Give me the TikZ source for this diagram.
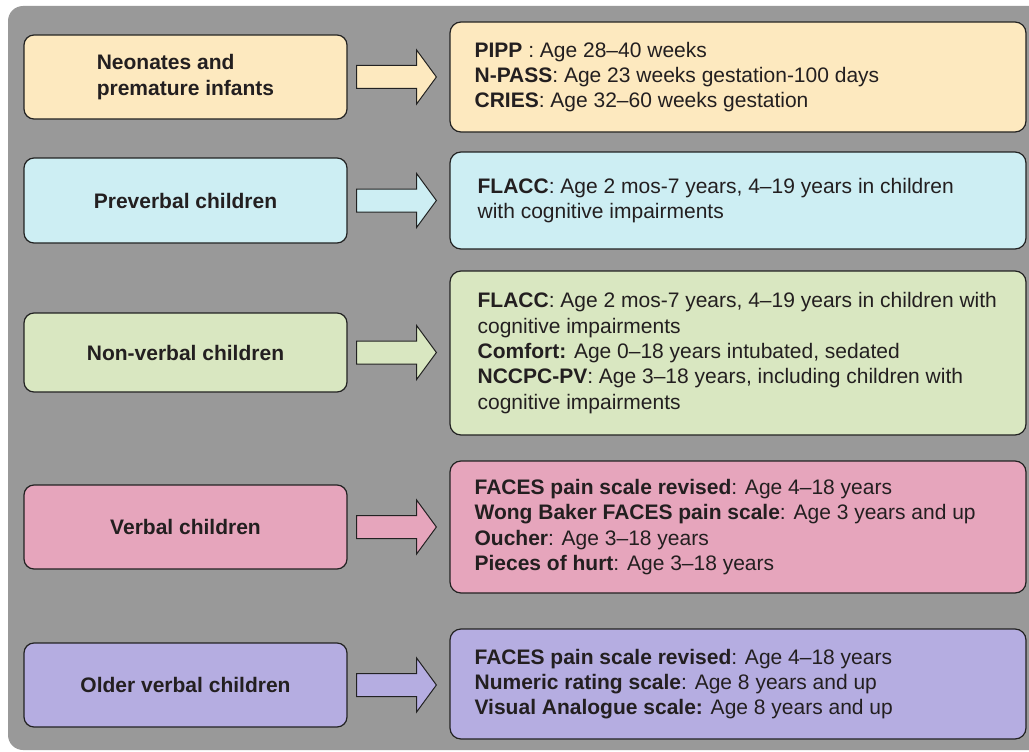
\documentclass[tikz,border=0pt]{standalone}
\usepackage{fontspec}
\setmainfont{Liberation Sans}
\usetikzlibrary{calc}
\definecolor{bggray}{HTML}{999999}
\definecolor{txt}{HTML}{231F20}
\definecolor{cA}{HTML}{FDE9BF}
\definecolor{cB}{HTML}{CDEEF3}
\definecolor{cC}{HTML}{D9E7C1}
\definecolor{cD}{HTML}{E6A5BC}
\definecolor{cE}{HTML}{B5ADE1}
\definecolor{edge}{HTML}{222222}
\tikzset{
  lbox/.style={draw=edge, line width=1.2pt, rounded corners=10pt, minimum width=323pt,
    inner sep=0pt, align=left, text=txt, font=\fontsize{21}{26}\selectfont\bfseries},
  rbox/.style={draw=edge, line width=1.2pt, rounded corners=11pt, minimum width=576pt, inner sep=0pt},
  rtext/.style={anchor=west, align=left, inner sep=0pt, text=txt, font=\fontsize{21}{25.3}\selectfont},
  arrowshape/.style={draw=edge, line width=1pt, line join=miter}
}
\newcommand{\conn}[3]{%
  \path (#1.east) ++(9,0) coordinate (s#1);
  \path (#2.west |- #1.east) ++(-13,0) coordinate (t#1);
  \draw[arrowshape, fill=#3] ($(s#1)+(0,-11.5)$) -- ($(s#1)+(60,-11.5)$) -- ($(s#1)+(60,-27)$)
    -- (t#1) -- ($(s#1)+(60,27)$) -- ($(s#1)+(60,11.5)$) -- ($(s#1)+(0,11.5)$) -- cycle;
}
\begin{document}
\begin{tikzpicture}[x=1pt,y=-1pt]
\useasboundingbox (0,0) rectangle (1029,752);
\fill[bggray, rounded corners=15pt] (8,6) rectangle (1060,750);

% left boxes
\node[lbox, fill=cA, minimum height=84pt] (L1) at (185.5,77) {Neonates and\\premature infants};
\node[lbox, fill=cB, minimum height=85pt] (L2) at (185.5,200.5) {Preverbal children};
\node[lbox, fill=cC, minimum height=79pt] (L3) at (185.5,352.5) {Non-verbal children};
\node[lbox, fill=cD, minimum height=84pt] (L4) at (185.5,527) {Verbal children};
\node[lbox, fill=cE, minimum height=84pt] (L5) at (185.5,685) {Older verbal children};

% right boxes
\node[rbox, fill=cA, minimum height=110pt] (R1) at (738,77) {};
\node[rbox, fill=cB, minimum height=97pt] (R2) at (738,200.5) {};
\node[rbox, fill=cC, minimum height=164pt] (R3) at (738,353) {};
\node[rbox, fill=cD, minimum height=132pt] (R4) at (738,527) {};
\node[rbox, fill=cE, minimum height=110pt] (R5) at (738,684) {};

\node[rtext] (T1) at ([xshift=25pt]R1.west) {\textbf{PIPP} : Age 28–40 weeks\\
\textbf{N-PASS}: Age 23 weeks gestation-100 days\\
\textbf{CRIES}: Age 32–60 weeks gestation};
\node[rtext] (T2) at ([xshift=28pt]R2.west) {\textbf{FLACC}: Age 2 mos-7 years, 4–19 years in children\\
with cognitive impairments};
\node[rtext] (T3) at ([xshift=28pt]R3.west) {\textbf{FLACC}: Age 2 mos-7 years, 4–19 years in children with\\
cognitive impairments\\
\textbf{Comfort:} Age 0–18 years intubated, sedated\\
\textbf{NCCPC-PV}: Age 3–18 years, including children with\\
cognitive impairments};
\node[rtext] (T4) at ([xshift=25pt]R4.west) {\textbf{FACES pain scale revised}: Age 4–18 years\\
\textbf{Wong Baker FACES pain scale}: Age 3 years and up\\
\textbf{Oucher}: Age 3–18 years\\
\textbf{Pieces of hurt}: Age 3–18 years};
\node[rtext] (T5) at ([xshift=25pt]R5.west) {\textbf{FACES pain scale revised}: Age 4–18 years\\
\textbf{Numeric rating scale}: Age 8 years and up\\
\textbf{Visual Analogue scale:} Age 8 years and up};

% connectors
\conn{L1}{R1}{cA}
\conn{L2}{R2}{cB}
\conn{L3}{R3}{cC}
\conn{L4}{R4}{cD}
\conn{L5}{R5}{cE}
\end{tikzpicture}
\end{document}
